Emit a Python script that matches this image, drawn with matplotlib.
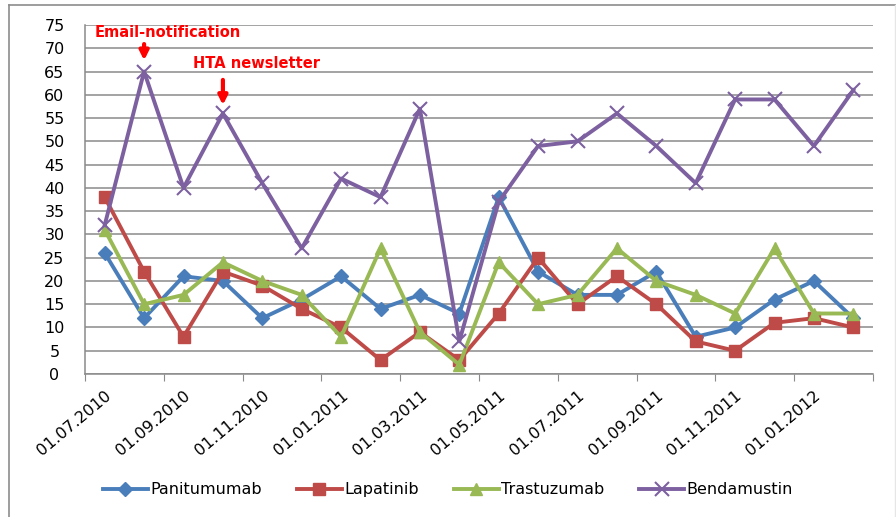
import matplotlib
matplotlib.use('Agg')
import matplotlib.pyplot as plt
import numpy as np
from matplotlib.lines import Line2D

plt.rcParams.update({
    "font.family": 'DejaVu Sans',
    "font.size": 10,
})

# monthly values, 01.07.2010 .. 01.02.2012
months = ['01.07.2010', '01.08.2010', '01.09.2010', '01.10.2010', '01.11.2010',
          '01.12.2010', '01.01.2011', '01.02.2011', '01.03.2011', '01.04.2011',
          '01.05.2011', '01.06.2011', '01.07.2011', '01.08.2011', '01.09.2011',
          '01.10.2011', '01.11.2011', '01.12.2011', '01.01.2012', '01.02.2012']
panitumumab = [26, 12, 21, 20, 12, 16, 21, 14, 17, 13, 38, 22, 17, 17, 22, 8, 10, 16, 20, 12]
lapatinib = [38, 22, 8, 22, 19, 14, 10, 3, 9, 3, 13, 25, 15, 21, 15, 7, 5, 11, 12, 10]
trastuzumab = [31, 15, 17, 24, 20, 17, 8, 27, 9, 2, 24, 15, 17, 27, 20, 17, 13, 27, 13, 13]
bendamustin = [32, 65, 40, 56, 41, 27, 42, 38, 57, 7, 37, 49, 50, 56, 49, 41, 59, 59, 49, 61]

series = [
    ('Panitumumab', panitumumab, '#4A7EBB', 'D', 7),
    ('Lapatinib', lapatinib, '#BE4B48', 's', 8),
    ('Trastuzumab', trastuzumab, '#98B954', '^', 9),
    ('Bendamustin', bendamustin, '#7D60A0', 'x', 10),
]

fig = plt.figure(figsize=(8.96, 5.17), dpi=100)
# chart border (left + top visible, right faint)
fig.lines.append(Line2D([9 / 896, 9 / 896], [0, 1 - 5 / 517], transform=fig.transFigure,
                        color='#8c8c8c', linewidth=1.2))
fig.lines.append(Line2D([9 / 896, 1], [1 - 5 / 517, 1 - 5 / 517], transform=fig.transFigure,
                        color='#8c8c8c', linewidth=1.2))
fig.lines.append(Line2D([895 / 896, 895 / 896], [0, 1 - 5 / 517], transform=fig.transFigure,
                        color='#e6e6e6', linewidth=1))

ax = fig.add_axes([85 / 896, 1 - 374 / 517, 788 / 896, 349 / 517])

x = np.arange(len(months))
for name, vals, col, mk, ms in series:
    ax.plot(x, vals, color=col, linewidth=2.8, marker=mk, markersize=ms,
            markeredgewidth=1.5 if mk == 'x' else 1, markeredgecolor=col,
            markerfacecolor=col, label=name)

ax.set_ylim(0, 75)
ax.set_xlim(-0.5, len(months) - 0.5)
ax.set_yticks(np.arange(0, 76, 5))
ax.yaxis.grid(True, color='#8a8a8a', linewidth=1.1)
ax.set_axisbelow(True)
ax.tick_params(axis='y', length=0, pad=22, labelsize=11.5)
for t in ax.get_yticklabels():
    t.set_horizontalalignment('center')

ax.set_xticks(np.arange(-0.5, len(months), 2))
ax.set_xticklabels([])
ax.set_xticks(x[::2], minor=True)
ax.set_xticklabels(months[::2], minor=True, rotation=40, ha='right', rotation_mode='anchor',
                   fontsize=11.5)
ax.tick_params(axis='x', which='major', length=5, color='#8a8a8a', direction='out')
ax.tick_params(axis='x', which='minor', length=0, pad=10)

for s in ['top', 'right']:
    ax.spines[s].set_visible(False)
for s in ['left', 'bottom']:
    ax.spines[s].set_color('#8a8a8a')
    ax.spines[s].set_linewidth(1.1)

# annotations
ax.annotate('', xy=(1, 66.8), xytext=(1, 71.5), arrowprops=dict(arrowstyle='-|>', color='red',
            lw=3, mutation_scale=13))
ax.text(-0.25, 73.4, 'Email-notification', color='red', fontweight='bold', fontsize=10.5,
        va='center', ha='left')
ax.annotate('', xy=(3, 57.2), xytext=(3, 63.8), arrowprops=dict(arrowstyle='-|>', color='red',
            lw=3, mutation_scale=13))
ax.text(2.25, 66.8, 'HTA newsletter', color='red', fontweight='bold', fontsize=10.5,
        va='center', ha='left')

fig.legend(loc='center', bbox_to_anchor=(0.5, 1 - 490 / 517), ncol=4, frameon=False,
           fontsize=11.5, handlelength=2.8, columnspacing=2.2, handletextpad=0.15)

fig.savefig('out.png', dpi=100)
